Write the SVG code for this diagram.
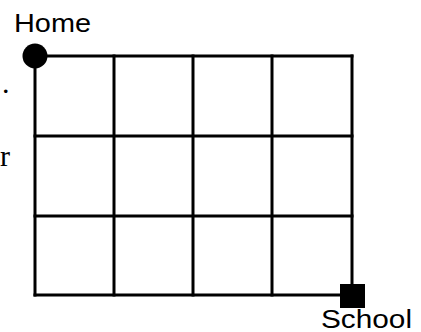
<svg xmlns="http://www.w3.org/2000/svg" width="421" height="332" viewBox="0 0 421 332">
<style>
.grid{stroke:#000;stroke-width:3;fill:none;stroke-linecap:square}
.lbl{font-family:"Liberation Sans",Arial,sans-serif;font-size:26px;fill:#000}
.side{font-family:"Liberation Serif","Times New Roman",serif;font-size:30px;fill:#000}
</style>
<rect width="421" height="332" fill="#fff"/>
<g id="connectors" class="grid">
<line x1="35" y1="56" x2="352" y2="56"/>
<line x1="35" y1="136" x2="352" y2="136"/>
<line x1="35" y1="216" x2="352" y2="216"/>
<line x1="35" y1="295" x2="352" y2="295"/>
<line x1="35" y1="56" x2="35" y2="295"/>
<line x1="114" y1="56" x2="114" y2="295"/>
<line x1="193" y1="56" x2="193" y2="295"/>
<line x1="272" y1="56" x2="272" y2="295"/>
<line x1="352" y1="56" x2="352" y2="295"/>
</g>
<g id="home">
<circle cx="35" cy="56" r="12.5" fill="#000"/>
<text class="lbl" x="14" y="32" textLength="77" lengthAdjust="spacingAndGlyphs">Home</text>
</g>
<g id="school">
<text class="lbl" x="321" y="328" textLength="91" lengthAdjust="spacingAndGlyphs">School</text>
<rect x="340" y="284" width="25" height="24" fill="#000"/>
</g>
<g id="side-text">
<text class="side" x="2" y="93">.</text>
<text class="side" x="0" y="166">r</text>
</g>
</svg>
